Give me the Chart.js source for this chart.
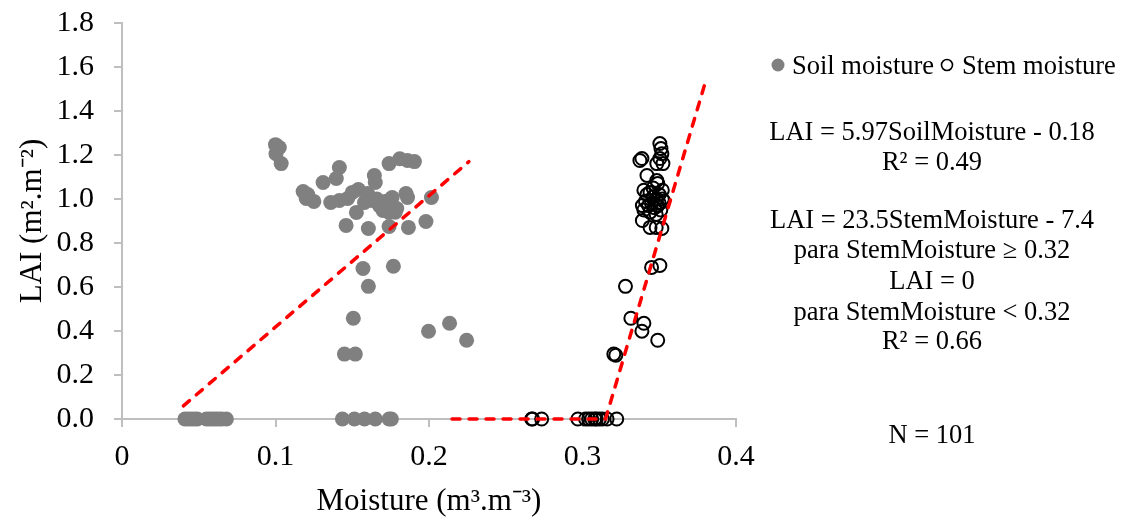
<!DOCTYPE html>
<html>
<head>
<meta charset="utf-8">
<script src="https://cdn.jsdelivr.net/npm/chart.js@4.4.1/dist/chart.umd.min.js"></script>
<style>
  html, body { margin: 0; padding: 0; background: #ffffff; }
  #wrap { width: 1129px; height: 521px; }
</style>
</head>
<body>
<div id="wrap"><canvas id="c" width="1129" height="521"></canvas></div>
<script>
// ---- data ----
const soilMoisture = [
  0.100, 0.1025, 0.1003, 0.1037, 0.174, 0.181, 0.186, 0.1905, 0.1416, 0.1644,
  0.165, 0.131, 0.1396, 0.118, 0.120, 0.125, 0.136, 0.1416, 0.147, 0.150,
  0.154, 0.160, 0.158, 0.163, 0.1677, 0.170, 0.174, 0.176, 0.179, 0.174,
  0.185, 0.186, 0.2016, 0.1527, 0.146, 0.1605, 0.174, 0.1866, 0.198, 0.121,
  0.166, 0.172, 0.178,
  0.157, 0.1768, 0.1605, 0.1507, 0.1449, 0.152, 0.1997, 0.2134, 0.2245,
  0.041, 0.043, 0.045, 0.047, 0.049, 0.055, 0.057, 0.059, 0.061, 0.063,
  0.065, 0.068, 0.1436, 0.1514, 0.158, 0.165, 0.1755, 0.174
];
const soilLAI = [
  1.247, 1.234, 1.206, 1.161, 1.161, 1.183, 1.175, 1.170, 1.143, 1.107,
  1.075, 1.075, 1.093, 1.034, 1.002, 0.989, 0.984, 0.993, 1.002, 1.030,
  1.043, 1.025, 0.984, 0.993, 0.970, 0.948, 0.980, 1.007, 0.957, 0.939,
  1.025, 1.007, 1.007, 0.939, 0.880, 0.866, 0.875, 0.871, 0.898, 1.020,
  1.000, 0.990, 0.940,
  0.684, 0.694, 0.603, 0.458, 0.295, 0.295, 0.399, 0.435, 0.358,
  0, 0, 0, 0, 0, 0, 0, 0, 0, 0,
  0, 0, 0, 0, 0, 0, 0, 0
];
const stemMoisture = [
  0.3504, 0.3511, 0.3517, 0.3374, 0.3387, 0.3484, 0.3524, 0.3504, 0.342, 0.3484,
  0.349, 0.340, 0.342, 0.344, 0.346, 0.348, 0.350, 0.352, 0.341, 0.343,
  0.345, 0.347, 0.349, 0.351, 0.353, 0.340, 0.344, 0.348, 0.352, 0.346,
  0.339, 0.350, 0.339, 0.344, 0.348, 0.3517, 0.345, 0.3504,
  0.328, 0.3315, 0.340, 0.3387, 0.349, 0.3204, 0.3217,
  0.2669, 0.2675, 0.2734, 0.297, 0.302, 0.304, 0.306, 0.308, 0.309, 0.311,
  0.313, 0.316, 0.3223
];
const stemLAI = [
  1.252, 1.229, 1.206, 1.175, 1.184, 1.161, 1.161, 1.184, 1.107, 1.084,
  1.070, 1.040, 1.020, 1.030, 1.010, 1.000, 1.020, 1.000, 0.990, 0.970,
  0.980, 0.960, 0.970, 0.950, 0.990, 0.950, 0.940, 0.930, 1.040, 1.050,
  0.970, 0.980, 0.902, 0.871, 0.871, 0.866, 0.689, 0.698,
  0.603, 0.458, 0.435, 0.399, 0.358, 0.295, 0.290,
  0, 0, 0, 0, 0, 0, 0, 0, 0, 0,
  0, 0, 0
];
// fitted lines (end points)
const soilFitX = [0.040, 0.226];
const soilFitY = [0.060, 1.170];
const stemFitX = [0.215, 0.315, 0.380];
const stemFitY = [0, 0, 1.530];
// tick labels
const xTickLabels = ['0', '0.1', '0.2', '0.3', '0.4'];
const yTickLabels = ['0.0', '0.2', '0.4', '0.6', '0.8', '1.0', '1.2', '1.4', '1.6', '1.8'];
// series names & text annotations
const seriesNames = ['Soil moisture', 'Stem moisture'];
const noteLines = [
  'LAI = 5.97SoilMoisture - 0.18',
  'R² = 0.49',
  'LAI = 23.5StemMoisture - 7.4',
  'para StemMoisture ≥ 0.32',
  'LAI = 0',
  'para StemMoisture < 0.32',
  'R² = 0.66',
  'N = 101'
];
const noteBaselines = [140, 170, 228, 258, 289, 320, 349, 443];

const FONT = '"Liberation Serif", "Times New Roman", serif';
const AXIS_GREY = '#bfbfbf';

function pts(xs, ys) { return xs.map((x, i) => ({ x: x, y: ys[i] })); }

const sidePanel = {
  id: 'sidePanel',
  afterDraw(chart) {
    const ctx = chart.ctx;
    ctx.save();
    ctx.font = '26.5px ' + FONT;
    ctx.textBaseline = 'alphabetic';
    // legend
    const ly = 74;
    ctx.beginPath();
    ctx.arc(778, 65, 6.5, 0, Math.PI * 2);
    ctx.fillStyle = '#808080';
    ctx.fill();
    ctx.fillStyle = '#000';
    ctx.textAlign = 'left';
    ctx.fillText(seriesNames[0], 792, ly);
    ctx.beginPath();
    ctx.arc(947, 65, 5.5, 0, Math.PI * 2);
    ctx.strokeStyle = '#000';
    ctx.lineWidth = 1.6;
    ctx.stroke();
    ctx.fillText(seriesNames[1], 962, ly);
    // equations
    ctx.textAlign = 'center';
    noteLines.forEach((t, i) => ctx.fillText(t, 932, noteBaselines[i]));
    ctx.restore();
  }
};

new Chart(document.getElementById('c'), {
  type: 'scatter',
  data: {
    datasets: [
      {
        label: 'soil fit', type: 'line', data: pts(soilFitX, soilFitY),
        borderColor: '#ff0000', borderWidth: 3.5, borderDash: [8, 9], borderCapStyle: 'round',
        pointRadius: 0, fill: false, clip: false, tension: 0
      },
      {
        label: 'stem fit', type: 'line', data: pts(stemFitX, stemFitY),
        borderColor: '#ff0000', borderWidth: 3.5, borderDash: [8, 9], borderCapStyle: 'round',
        pointRadius: 0, fill: false, clip: false, tension: 0
      },
      {
        label: seriesNames[0], data: pts(soilMoisture, soilLAI),
        pointRadius: 7.5, pointBackgroundColor: '#808080', pointBorderColor: '#808080',
        pointBorderWidth: 0, clip: false
      },
      {
        label: seriesNames[1], data: pts(stemMoisture, stemLAI),
        pointRadius: 6.5, pointBackgroundColor: 'rgba(255,255,255,0)', pointBorderColor: '#000000',
        pointBorderWidth: 2, clip: false
      }
    ]
  },
  options: {
    responsive: false,
    animation: false,
    devicePixelRatio: 1,
    layout: { padding: { left: 0, right: 393, top: 23, bottom: 0 } },
    plugins: { legend: { display: false }, tooltip: { enabled: false } },
    scales: {
      x: {
        type: 'linear', min: 0, max: 0.4,
        ticks: {
          stepSize: 0.1, padding: 12, color: '#000',
          font: { family: FONT, size: 30 },
          callback: (v, i) => xTickLabels[i]
        },
        grid: { display: true, drawOnChartArea: false, drawTicks: true, tickLength: 8, color: AXIS_GREY, lineWidth: 2 },
        border: { display: true, color: AXIS_GREY, width: 2 },
        title: {
          display: true, text: 'Moisture (m³.m⁻³)', color: '#000',
          font: { family: FONT, size: 31 }, padding: { top: 0, bottom: 1 }
        },
        afterFit: (s) => { s.height = 102; }
      },
      y: {
        type: 'linear', min: 0, max: 1.8,
        ticks: {
          stepSize: 0.2, padding: 20, color: '#000',
          font: { family: FONT, size: 30 },
          callback: (v, i) => yTickLabels[i]
        },
        grid: { display: true, drawOnChartArea: false, drawTicks: true, tickLength: 8, color: AXIS_GREY, lineWidth: 2 },
        border: { display: true, color: AXIS_GREY, width: 2 },
        title: {
          display: true, text: 'LAI (m².m⁻²)', color: '#000',
          font: { family: FONT, size: 31 }, padding: { top: 14, bottom: 0 }
        },
        afterFit: (s) => { s.width = 122; s.paddingTop = 0; s.paddingBottom = 0; }
      }
    }
  },
  plugins: [sidePanel]
});
</script>
</body>
</html>
